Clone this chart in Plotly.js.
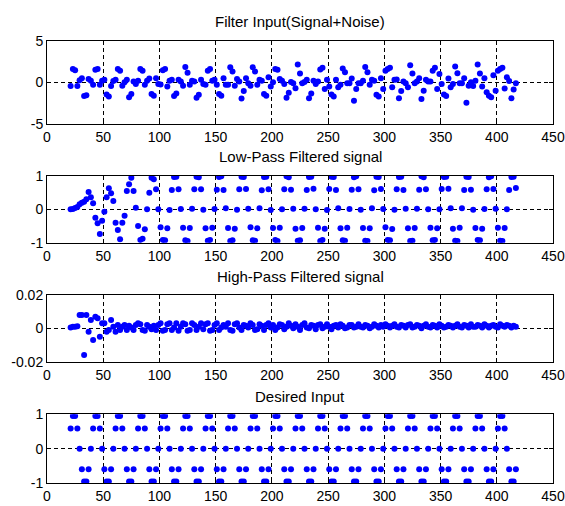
<!DOCTYPE html>
<html>
<head>
<meta charset="utf-8">
<script src="https://cdn.plot.ly/plotly-3.0.1.min.js"></script>
<style>html,body{margin:0;padding:0;background:#fff;}#chart{width:565px;height:506px;}</style>
</head>
<body>
<div id="chart"></div>
<script>
// sample index (x axis)
const sampleIndex = [
21,23,25,27,29,31,33,35,37,39,
41,43,45,47,49,51,53,55,57,59,
61,63,65,67,69,71,73,75,77,79,
81,83,85,87,89,91,93,95,97,99,
101,103,105,107,109,111,113,115,117,119,
121,123,125,127,129,131,133,135,137,139,
141,143,145,147,149,151,153,155,157,159,
161,163,165,167,169,171,173,175,177,179,
181,183,185,187,189,191,193,195,197,199,
201,203,205,207,209,211,213,215,217,219,
221,223,225,227,229,231,233,235,237,239,
241,243,245,247,249,251,253,255,257,259,
261,263,265,267,269,271,273,275,277,279,
281,283,285,287,289,291,293,295,297,299,
301,303,305,307,309,311,313,315,317,319,
321,323,325,327,329,331,333,335,337,339,
341,343,345,347,349,351,353,355,357,359,
361,363,365,367,369,371,373,375,377,379,
381,383,385,387,389,391,393,395,397,399,
401,403,405,407,409,411,413,415,417];

// Filter Input (Signal+Noise)
const filterInput = [
-0.44,1.6,1.45,-0.44,0.24,0.48,-1.65,-1.55,0.4,0.2,
-0.3,1.5,1.6,-0.3,0.2,0.3,-1.45,-1.7,-0.45,0.15,
0.3,1.6,1.4,-0.4,0.0,0.3,-1.8,-1.4,0.1,-0.2,
0.2,1.6,1.4,-0.3,0.2,0.45,-1.4,-1.6,0.5,-0.2,
-0.25,1.45,1.6,-0.5,0.2,0.3,-1.65,-1.35,0.3,0.1,
-0.4,1.85,1.15,-0.3,0.2,0.1,-1.85,-1.5,0.3,-0.2,
-0.3,1.4,1.6,0.2,0.3,-0.3,-1.4,-1.6,0.5,-0.3,
-0.3,1.8,1.3,-0.4,0.4,0.1,-1.95,-1.05,0.5,-0.1,
-0.4,1.8,1.3,-0.3,0.3,0.2,-1.4,-1.6,0.6,-0.5,
0.0,1.6,1.5,0.4,0.2,-0.2,-1.85,-1.25,0.05,-0.1,
-0.7,2.15,1.05,-0.1,0.05,0.3,-1.9,-1.35,0.2,-0.2,
0.1,1.55,1.75,-0.8,0.3,-0.5,-1.45,-1.7,0.3,-0.6,
-0.3,1.65,1.2,-0.1,-0.1,0.45,-2.2,-0.8,-0.1,-0.1,
0.2,1.85,1.2,-0.3,0.3,0.2,-1.5,-1.7,0.5,-0.8,
1.4,1.6,1.75,-0.6,0.3,0.35,-1.9,-1.05,0.1,-0.1,
-0.6,2.05,1.05,-0.1,0.1,0.5,-2.0,-1.0,0.3,0.1,
0.1,1.4,1.75,-0.8,1.0,-0.2,-1.45,-1.65,0.45,-0.6,
-0.2,1.9,1.1,-0.1,-0.1,0.5,-2.45,-0.4,0.0,-0.45,
0.2,2.15,1.05,-0.5,0.5,-1.2,-1.6,-1.8,0.85,-1.0,
1.4,1.6,1.75,-0.75,0.6,0.15,-1.9,-0.85,-0.1];

// Low-Pass Filtered signal
const lowPass = [
0,0.01,0.04,0.07,0.15,0.2,0.23,0.3,0.52,0.36,
0.18,-0.25,-0.42,-0.74,-0.34,-0.07,0.36,0.63,0.48,0.25,
-0.4,-0.62,-0.9,-0.4,-0.19,0.55,0.75,0.95,0.55,0.05,
-0.5,-0.92,-0.88,-0.6,0.0,0.5,0.95,0.9,0.6,0.0,
-0.54,-0.92,-0.93,-0.57,-0.02,0.58,0.97,0.98,0.6,0.01,
-0.55,-0.93,-0.95,-0.56,0.02,0.6,0.98,0.96,0.6,-0.01,
-0.57,-0.94,-0.92,-0.55,0.01,0.59,0.97,0.99,0.58,0.03,
-0.56,-0.95,-0.93,-0.58,-0.01,0.6,0.98,0.97,0.61,0.02,
-0.54,-0.93,-0.94,-0.57,0.03,0.57,0.97,0.98,0.6,-0.02,
-0.56,-0.92,-0.95,-0.55,0.0,0.6,0.99,0.96,0.59,0.02,
-0.58,-0.94,-0.93,-0.56,0.02,0.58,0.97,0.98,0.62,0.0,
-0.55,-0.95,-0.92,-0.58,-0.02,0.61,0.98,0.97,0.58,0.03,
-0.57,-0.93,-0.94,-0.55,0.01,0.59,0.96,0.99,0.6,-0.01,
-0.56,-0.94,-0.95,-0.57,0.03,0.57,0.98,0.97,0.61,0.01,
-0.54,-0.92,-0.93,-0.59,-0.01,0.6,0.97,0.98,0.58,0.02,
-0.57,-0.95,-0.94,-0.56,0.02,0.59,0.99,0.96,0.6,0.0,
-0.55,-0.93,-0.92,-0.57,0.0,0.61,0.97,0.98,0.62,0.03,
-0.58,-0.94,-0.95,-0.55,0.03,0.58,0.98,0.97,0.59,-0.01,
-0.56,-0.92,-0.93,-0.58,0.01,0.6,0.96,0.99,0.61,0.02,
-0.55,-0.94,-0.95,-0.56,0.0,0.58,0.97,0.98,0.64];

// High-Pass Filtered signal
const highPass = [
0.0005,0.001,0.001,0.0012,0.008,0.008,-0.016,0.008,-0.002,0.005,
-0.007,0.007,0.006,-0.005,0.003,0.003,-0.002,-0.001,0.005,0.001,
-0.002,0.002,-0.001,0.001,0.002,-0.001,0.0015,0.0005,-0.001,0.002,
0.003,0.0025,-0.001,-0.0015,0.002,0.001,-0.0005,0.0015,-0.001,0.002,
0.003,-0.0015,-0.001,0.0025,0.003,-0.001,0.0005,0.003,-0.0015,0.001,
0.003,0.0025,-0.0015,-0.001,0.003,0.002,-0.001,0.001,0.003,-0.0005,
0.0025,0.003,-0.0015,-0.001,0.002,0.003,-0.001,0.0005,0.002,0.001,
0.003,-0.001,-0.0015,0.0025,0.003,0.0005,-0.001,0.002,0.0015,0.0005,
0.003,0.002,-0.001,-0.0005,0.0025,0.0015,-0.001,0.002,0.003,0.0005,
0.002,-0.001,0.0005,0.0025,0.002,-0.0005,0.001,0.003,0.0015,0.0,
0.0025,0.001,-0.001,0.002,0.003,0.0005,0.0,0.002,0.0015,-0.0005,
0.002,0.0025,0.0,0.001,0.0025,0.001,-0.0005,0.0015,0.002,0.0005,
0.0025,0.0015,0.0,0.0005,0.002,0.002,0.0005,0.001,0.0025,0.001,
0.0005,0.002,0.0015,0.0,0.001,0.0025,0.0015,0.0005,0.002,0.001,
0.0025,0.0015,0.0005,0.0015,0.0025,0.001,0.0005,0.002,0.0015,0.0005,
0.002,0.0025,0.0005,0.001,0.002,0.0015,0.0,0.0015,0.0025,0.001,
0.0005,0.002,0.0015,0.0005,0.0025,0.0015,0.0005,0.001,0.002,0.0015,
0.0005,0.0015,0.0025,0.001,0.0005,0.002,0.0015,0.0005,0.0025,0.001,
0.001,0.002,0.0015,0.0005,0.0025,0.0015,0.0005,0.0015,0.002,0.001,
0.0005,0.0025,0.0015,0.001,0.002,0.0015,0.0005,0.0015,0.001];

// Desired Input
const desired = [
0.59,0.95,0.95,0.59,0,-0.59,-0.95,-0.95,-0.59,0,
0.59,0.95,0.95,0.59,0,-0.59,-0.95,-0.95,-0.59,0,
0.59,0.95,0.95,0.59,0,-0.59,-0.95,-0.95,-0.59,0,
0.59,0.95,0.95,0.59,0,-0.59,-0.95,-0.95,-0.59,0,
0.59,0.95,0.95,0.59,0,-0.59,-0.95,-0.95,-0.59,0,
0.59,0.95,0.95,0.59,0,-0.59,-0.95,-0.95,-0.59,0,
0.59,0.95,0.95,0.59,0,-0.59,-0.95,-0.95,-0.59,0,
0.59,0.95,0.95,0.59,0,-0.59,-0.95,-0.95,-0.59,0,
0.59,0.95,0.95,0.59,0,-0.59,-0.95,-0.95,-0.59,0,
0.59,0.95,0.95,0.59,0,-0.59,-0.95,-0.95,-0.59,0,
0.59,0.95,0.95,0.59,0,-0.59,-0.95,-0.95,-0.59,0,
0.59,0.95,0.95,0.59,0,-0.59,-0.95,-0.95,-0.59,0,
0.59,0.95,0.95,0.59,0,-0.59,-0.95,-0.95,-0.59,0,
0.59,0.95,0.95,0.59,0,-0.59,-0.95,-0.95,-0.59,0,
0.59,0.95,0.95,0.59,0,-0.59,-0.95,-0.95,-0.59,0,
0.59,0.95,0.95,0.59,0,-0.59,-0.95,-0.95,-0.59,0,
0.59,0.95,0.95,0.59,0,-0.59,-0.95,-0.95,-0.59,0,
0.59,0.95,0.95,0.59,0,-0.59,-0.95,-0.95,-0.59,0,
0.59,0.95,0.95,0.59,0,-0.59,-0.95,-0.95,-0.59,0,
0.59,0.95,0.95,0.59,0,-0.59,-0.95,-0.95,-0.59];

const titles = ["Filter Input(Signal+Noise)", "Low-Pass Filtered signal", "High-Pass Filtered signal", "Desired Input"];
const xTicks = [0,50,100,150,200,250,300,350,400,450];
const yTicks = [[-5,0,5],[-1,0,1],[-0.02,0,0.02],[-1,0,1]];
const yTickText = [["-5","0","5"],["-1","0","1"],["-0.02","0","0.02"],["-1","0","1"]];
const yRanges = [[-5,5],[-1,1],[-0.02,0.02],[-1,1]];
const seriesList = [filterInput, lowPass, highPass, desired];

const W = 565, H = 506;
const plotBoxes = [[40.7,124],[176,242.7],[295,361.7],[414.3,483.3]]; // top,bottom px
const titleY = [21.5,156.5,276.5,396];
const FONT = "Liberation Sans, Arial, Helvetica, sans-serif";

const traces = [];
const layout = {
  width: W, height: H,
  margin: {l:0,r:0,t:0,b:0},
  paper_bgcolor: "#ffffff", plot_bgcolor: "#ffffff",
  showlegend: false,
  font: {family: FONT, size: 14, color: "#000"},
  annotations: []
};
for (let i = 0; i < 4; i++) {
  const xa = i === 0 ? "x" : "x" + (i+1);
  const ya = i === 0 ? "y" : "y" + (i+1);
  traces.push({
    x: sampleIndex, y: seriesList[i], xaxis: xa, yaxis: ya,
    type: "scatter", mode: "markers",
    marker: {color: "#0000ff", size: 6, line: {width: 0}},
    hoverinfo: "skip"
  });
  const xk = i === 0 ? "xaxis" : "xaxis" + (i+1);
  const yk = i === 0 ? "yaxis" : "yaxis" + (i+1);
  layout[xk] = {
    domain: [47/W, 553/W], anchor: ya, range: [0,450],
    tickmode: "array", tickvals: xTicks, ticktext: xTicks.map(String),
    ticks: "inside", ticklen: 4, tickcolor: "#000", tickwidth: 1,
    showline: true, linecolor: "#000", linewidth: 1, mirror: "ticks",
    showgrid: true, gridcolor: "#000", gridwidth: 1, griddash: "4px,3px",
    zeroline: false, fixedrange: true, ticklabeloverflow: "allow",
    tickfont: {family: FONT, size: 14, color: "#000"}
  };
  layout[yk] = {
    domain: [1 - plotBoxes[i][1]/H, 1 - plotBoxes[i][0]/H], anchor: xa,
    range: yRanges[i],
    tickmode: "array", tickvals: yTicks[i], ticktext: yTickText[i],
    ticks: "inside", ticklen: 4, tickcolor: "#000", tickwidth: 1,
    showline: true, linecolor: "#000", linewidth: 1, mirror: "ticks",
    showgrid: true, gridcolor: "#000", gridwidth: 1, griddash: "4px,3px",
    zeroline: false, fixedrange: true, ticklabeloverflow: "allow",
    tickfont: {family: FONT, size: 14, color: "#000"}
  };
  layout.annotations.push({
    text: titles[i], xref: "paper", yref: "paper",
    x: 300/W, y: 1 - titleY[i]/H, xanchor: "center", yanchor: "middle",
    showarrow: false, font: {family: FONT, size: 15, color: "#000"}
  });
}
Plotly.newPlot("chart", traces, layout, {displayModeBar: false, staticPlot: true});
</script>
</body>
</html>
